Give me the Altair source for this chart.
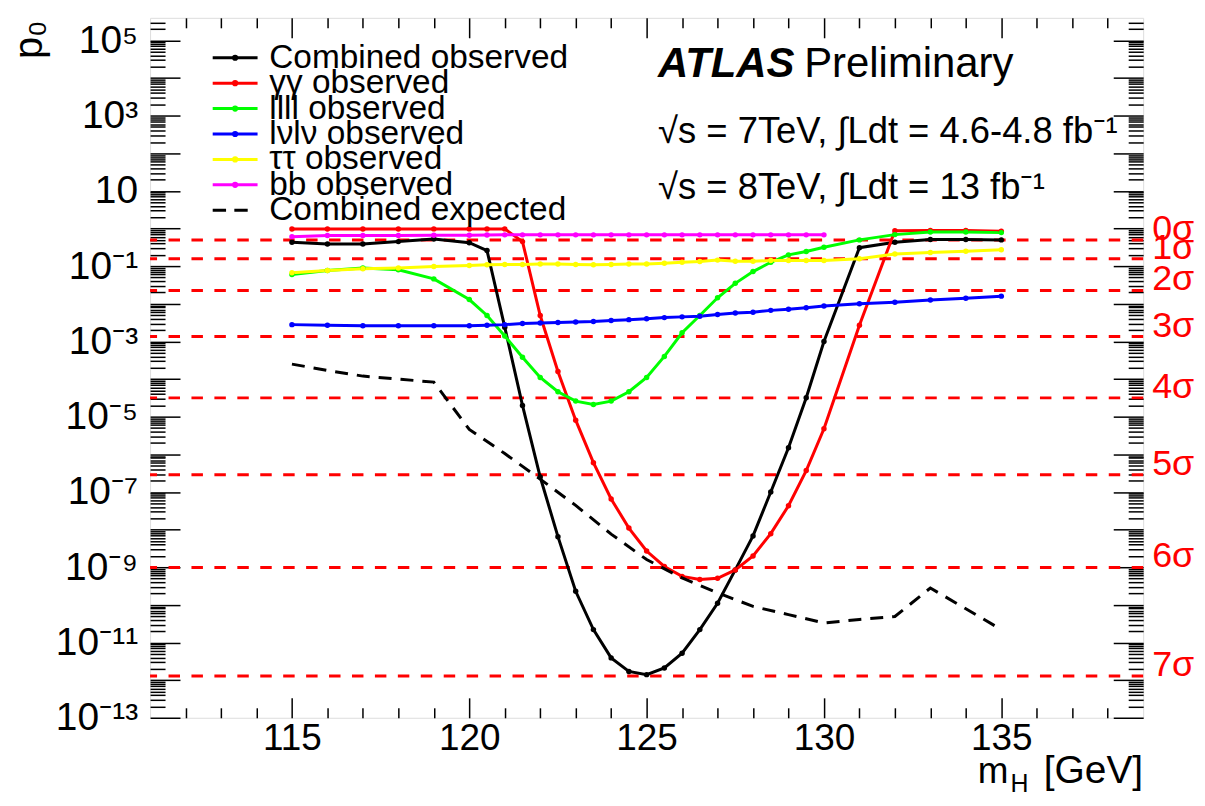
import altair as alt
import pandas as pd

FONT = "Liberation Sans, Noto Sans, DejaVu Sans"

# ---------------- data ----------------
series_names = ["Combined observed", "γγ observed", "llll observed", "lνlν observed",
                "ττ observed", "bb observed", "Combined expected"]
series_colors = ["#000000", "#ff0000", "#00ff00", "#0000ff", "#ffff00", "#ff00ff", "#000000"]

mass_obs = [115, 116, 117, 118, 119, 120, 120.5, 121, 121.5, 122, 122.5, 123, 123.5, 124,
            124.5, 125, 125.5, 126, 126.5, 127, 127.5, 128, 128.5, 129, 129.5, 130,
            131, 132, 133, 134, 135]
mass_bb = [115, 116, 117, 118, 119, 120, 120.5, 121, 121.5, 122, 122.5, 123, 123.5, 124,
           124.5, 125, 125.5, 126, 126.5, 127, 127.5, 128, 128.5, 129, 129.5, 130]
mass_exp = [115, 116, 117, 118, 119, 120, 121, 122, 123, 124, 125, 126, 127, 128, 129,
            130, 131, 132, 133, 134, 135]

p_combined = [0.43, 0.39, 0.39, 0.45, 0.53, 0.42, 0.26, 2.4e-3, 2.0e-5, 2.5e-7, 6.5e-9,
              2.3e-10, 2.2e-11, 3.9e-12, 1.7e-12, 1.4e-12, 2.1e-12, 5.2e-12, 2.2e-11,
              1.1e-10, 8.5e-10, 6.8e-9, 1.0e-7, 1.5e-6, 3.2e-5, 1.0e-3,
              0.31, 0.43, 0.51, 0.51, 0.50]
p_gamgam = [0.97, 0.97, 0.97, 0.97, 0.98, 0.98, 0.98, 0.98, 0.45, 4.9e-3, 1.6e-4, 8.1e-6,
            6.0e-7, 6.5e-8, 1.1e-8, 2.7e-9, 1.05e-9, 5.7e-10, 4.7e-10, 5.1e-10, 8.5e-10,
            2.0e-9, 7.8e-9, 4.3e-8, 3.7e-7, 4.8e-6,
            2.7e-3, 0.88, 0.89, 0.89, 0.85]
p_4l = [0.060, 0.077, 0.090, 0.080, 0.046, 0.013, 4.9e-3, 1.4e-3, 3.8e-4, 1.1e-4, 4.6e-5,
        2.6e-5, 2.1e-5, 2.6e-5, 4.6e-5, 1.1e-4, 4.0e-4, 1.7e-3, 4.9e-3, 0.0145, 0.035,
        0.072, 0.127, 0.20, 0.245, 0.32,
        0.50, 0.69, 0.81, 0.81, 0.78]
p_lvlv = [2.8e-3, 2.7e-3, 2.6e-3, 2.6e-3, 2.6e-3, 2.6e-3, 2.7e-3, 2.8e-3, 3.0e-3, 3.1e-3,
          3.2e-3, 3.3e-3, 3.4e-3, 3.6e-3, 3.8e-3, 4.0e-3, 4.3e-3, 4.5e-3, 4.7e-3, 5.2e-3,
          5.7e-3, 6.0e-3, 6.7e-3, 7.2e-3, 7.9e-3, 8.7e-3,
          1.0e-2, 1.1e-2, 1.26e-2, 1.4e-2, 1.6e-2]
p_tautau = [0.067, 0.077, 0.085, 0.090, 0.098, 0.104, 0.109, 0.111, 0.111, 0.115, 0.115,
            0.111, 0.109, 0.111, 0.115, 0.115, 0.120, 0.127, 0.133, 0.145, 0.135, 0.135,
            0.141, 0.141, 0.141, 0.141,
            0.158, 0.21, 0.23, 0.25, 0.275]
p_bb = [0.61, 0.65, 0.65, 0.65, 0.66, 0.66, 0.67, 0.68, 0.68, 0.68, 0.68, 0.68, 0.68,
        0.68, 0.68, 0.68, 0.68, 0.68, 0.68, 0.68, 0.68, 0.68, 0.68, 0.68, 0.68, 0.68]
p_expected = [2.5e-4, 1.7e-4, 1.2e-4, 1.0e-4, 8.3e-5, 4.6e-6, 1.05e-6, 2.2e-7, 4.4e-8,
              7.6e-9, 1.6e-9, 5.2e-10, 2.1e-10, 9.1e-11, 5.5e-11, 3.3e-11, 4.1e-11,
              4.9e-11, 2.8e-10, 7.9e-11, 2.2e-11]

sigma_labels = ["0σ", "1σ", "2σ", "3σ", "4σ", "5σ", "6σ", "7σ"]
sigma_p = [0.5, 0.1587, 0.02275, 1.35e-3, 3.167e-5, 2.867e-7, 9.866e-10, 1.280e-12]

# ---------------- tables ----------------
obs_rows = []
for name, ms, ps in [(series_names[0], mass_obs, p_combined),
                     (series_names[1], mass_obs, p_gamgam),
                     (series_names[2], mass_obs, p_4l),
                     (series_names[3], mass_obs, p_lvlv),
                     (series_names[4], mass_obs, p_tautau),
                     (series_names[5], mass_bb, p_bb)]:
    for m, p in zip(ms, ps):
        obs_rows.append({"series": name, "m": m, "p": p})
obs_df = pd.DataFrame(obs_rows)
exp_df = pd.DataFrame({"series": series_names[6], "m": mass_exp, "p": p_expected})
sig_df = pd.DataFrame({"label": sigma_labels, "p": sigma_p})
legend_df = pd.DataFrame({"series": series_names})

# ---------------- scales / axes ----------------
xs = alt.Scale(domain=[111, 139], nice=False, zero=False)
ys = alt.Scale(type="log", domain=[1e-13, 10 ** 5.6], nice=False)
cs = alt.Scale(domain=series_names, range=series_colors)

y_major = [10.0 ** e for e in range(-13, 6)]
y_minor = [k * 10.0 ** e for e in range(-13, 6) for k in range(2, 10) if k * 10.0 ** e < 3.9e5]
x_major = [115, 120, 125, 130, 135]
x_minor = [v for v in range(112, 139) if v % 5 != 0]

SUP = {"0": "⁰", "1": "¹", "2": "²", "3": "³", "4": "⁴", "5": "⁵", "6": "⁶",
       "7": "⁷", "8": "⁸", "9": "⁹", "-": "⁻"}


def exp_label(e):
    return "10" if e == 1 else "10" + "".join(SUP[c] for c in str(e))


label_exps = [5, 3, 1, -1, -3, -5, -7, -9, -11, -13]
ekey = "round(log(datum.value)/LN10)"
y_label_expr = "".join(f"{ekey}=={e}?'{exp_label(e)}':" for e in label_exps) + "''"


def ax(orient, values, size, **kw):
    base = dict(orient=orient, values=values, tickSize=size, offset=-size, domain=False,
                grid=False, title=None, ticks=True, tickColor="black", tickWidth=1.5)
    if "labels" not in kw:
        base["labels"] = False
    base.update(kw)
    return alt.Axis(**base)


# ---------------- data layers ----------------
sig_rules = alt.Chart(sig_df).mark_rule(color="#ff0000", strokeWidth=3, strokeDash=[11.5, 11.5]).encode(
    y=alt.Y("p:Q", scale=ys, axis=None)
)

lines = alt.Chart(obs_df).mark_line(strokeWidth=3).encode(
    x=alt.X("m:Q", scale=xs, axis=ax("bottom", x_major, 20, labels=True, labelFont=FONT,
                                     labelFontSize=37, labelPadding=3, labelColor="black",
                                     labelOverlap=False, labelFlush=False)),
    y=alt.Y("p:Q", scale=ys, axis=ax("left", y_major, 30, labels=True, labelExpr=y_label_expr,
                                     labelFont=FONT, labelFontSize=39, labelPadding=12.5,
                                     labelColor="black", labelOverlap=False, labelFlush=False)),
    color=alt.Color("series:N", scale=cs, legend=None),
)

points = alt.Chart(obs_df).mark_circle(size=30, opacity=1).encode(
    x=alt.X("m:Q", scale=xs, axis=ax("bottom", x_minor, 10)),
    y=alt.Y("p:Q", scale=ys, axis=ax("left", y_minor, 15)),
    color=alt.Color("series:N", scale=cs, legend=None),
)

expected = alt.Chart(exp_df).mark_line(strokeWidth=3, strokeDash=[13, 9]).encode(
    x=alt.X("m:Q", scale=xs, axis=ax("top", x_major, 20)),
    y=alt.Y("p:Q", scale=ys, axis=ax("right", y_major, 30)),
    color=alt.Color("series:N", scale=cs, legend=None),
)

expected_ticks = alt.Chart(exp_df).mark_point(opacity=0, size=1).encode(
    x=alt.X("m:Q", scale=xs, axis=ax("top", x_minor, 10)),
    y=alt.Y("p:Q", scale=ys, axis=ax("right", y_minor, 15)),
)

sig_text = alt.Chart(sig_df).mark_text(color="#ff0000", font=FONT, fontSize=36, align="left",
                                       baseline="alphabetic").encode(
    y=alt.Y("p:Q", scale=ys, axis=None),
    x=alt.value(1005),
    text="label:N",
)

# ---------------- legend (line + marker + label per series) ----------------
leg_y = alt.Y("series:N", axis=None,
              scale=alt.Scale(type="point", domain=series_names, range=[40, 193], padding=0))
leg_color = alt.Color("series:N", scale=cs, legend=None)
is_exp = alt.datum.series == "Combined expected"

leg_lines = alt.Chart(legend_df).transform_filter(~is_exp).mark_rule(strokeWidth=3).encode(
    x=alt.value(62.8), x2=alt.value(107.8), y=leg_y, color=leg_color)
leg_dots = alt.Chart(legend_df).transform_filter(~is_exp).mark_circle(size=38, opacity=1).encode(
    x=alt.value(85.3), y=leg_y, color=leg_color)
leg_dash = alt.Chart(legend_df).transform_filter(is_exp).mark_rule(
    strokeWidth=3, strokeDash=[13.4, 8.3]).encode(
    x=alt.value(62.8), x2=alt.value(98), y=leg_y, color=leg_color)
leg_text = alt.Chart(legend_df).mark_text(align="left", baseline="middle", font=FONT,
                                          fontSize=33.5, color="black").encode(
    x=alt.value(119.5), y=leg_y, text="series:N")


def note(txt, x, y, size, **kw):
    props = dict(align="left", baseline="alphabetic", font=FONT, fontSize=size, color="black")
    props.update(kw)
    return alt.Chart(pd.DataFrame({"t": [txt]})).mark_text(**props).encode(
        x=alt.value(x), y=alt.value(y), text="t:N")


texts = [
    note("ATLAS", 509.5, 59, 42, fontStyle="italic", fontWeight="bold"),
    note("Preliminary", 656, 59, 42),
    note("√s = 7TeV, ∫Ldt = 4.6-4.8 fb⁻¹", 509.5, 125.5, 36.5),
    note("√s = 8TeV, ∫Ldt = 13 fb⁻¹", 509.5, 182, 36.5),
    note("m", 861, 767.3, 37, align="right"),
    note("H", 881, 776.5, 25, align="right"),
    note("[GeV]", 996, 767.3, 39, align="right"),
    note("p₀", -108.5, 2.5, 40, align="right", angle=270),
]

chart = alt.layer(sig_rules, lines, points, expected, expected_ticks, sig_text,
                  leg_lines, leg_dots, leg_dash, leg_text, *texts).resolve_scale(
    x="independent", y="independent"
).properties(
    width=996, height=702,
    padding={"left": 142.5, "top": 8.7, "right": 54, "bottom": 78},
    autosize="none",
    background="white",
).configure_view(stroke="black", strokeWidth=2).configure(font=FONT)

chart.save("out.html", embed_options={"renderer": "svg", "actions": False})
